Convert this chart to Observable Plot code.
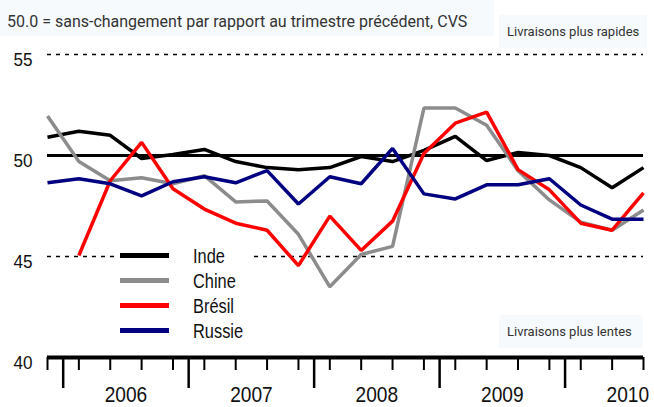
<!DOCTYPE html>
<html>
<head>
<meta charset="utf-8">
<script src="https://cdn.jsdelivr.net/npm/d3@7"></script>
<script src="https://cdn.jsdelivr.net/npm/@observablehq/plot@0.6"></script>
<style>
  html, body { margin: 0; padding: 0; background: #fff; }
  #wrap { position: relative; width: 654px; height: 407px; overflow: hidden; }
  .note { position: absolute; background: #f6fafd; color: #333; font-family: Roboto, "Noto Sans", sans-serif; white-space: nowrap; box-sizing: border-box; }
  #title { left: 0; top: 0; width: 494px; height: 36px; font-size: 16px; line-height: 44px; padding-left: 7px; }
  #fast { left: 499px; top: 15px; width: 148px; height: 33px; font-size: 13px; line-height: 34px; padding-left: 8px; }
  #slow { left: 499px; top: 315px; width: 144px; height: 33px; font-size: 13px; line-height: 34px; padding-left: 8px; }
  #legend { position: absolute; left: 118px; top: 243px; width: 132px; height: 100px; background: #fff; font-family: "Liberation Sans", Arial, sans-serif; font-size: 20.5px; color: #111; }
  .li { position: absolute; left: 0; height: 25px; width: 132px; }
  .li .sw { position: absolute; left: 2px; width: 49px; height: 5px; top: 10px; }
  .li .lb { position: absolute; left: 75px; top: 0; line-height: 25px; transform: scaleX(0.8); transform-origin: 0 50%; }
  svg text { font-family: "Liberation Sans", Arial, sans-serif; }
</style>
</head>
<body>
<div id="wrap"></div>
<script>
// Quarters (T = trimestre), 2005T4 .. 2010T3
const quarters = ["2005T4",
  "2006T1","2006T2","2006T3","2006T4",
  "2007T1","2007T2","2007T3","2007T4",
  "2008T1","2008T2","2008T3","2008T4",
  "2009T1","2009T2","2009T3","2009T4",
  "2010T1","2010T2","2010T3"];
const seriesNames = ["Inde", "Chine", "Brésil", "Russie"];
const seriesColors = ["#000000", "#8c8c8c", "#ff0000", "#000080"];
const inde   = [50.9, 51.2, 51.0, 49.85, 50.05, 50.3, 49.7, 49.4, 49.3, 49.4, 49.95, 49.7, 50.25, 50.95, 49.75, 50.15, 50.0, 49.4, 48.4, 49.4];
const chine  = [51.95, 49.7, 48.75, 48.9, 48.6, 49.0, 47.7, 47.75, 46.1, 43.5, 45.1, 45.5, 52.35, 52.35, 51.5, 49.25, 47.8, 46.7, 46.3, 47.3];
const bresil = [null, 45.05, 48.75, 50.65, 48.35, 47.35, 46.65, 46.3, 44.55, 47.0, 45.3, 46.75, 50.1, 51.6, 52.15, 49.3, 48.3, 46.65, 46.3, 48.15];
const russie = [48.65, 48.85, 48.6, 48.0, 48.7, 48.95, 48.65, 49.25, 47.6, 48.95, 48.6, 50.35, 48.1, 47.85, 48.55, 48.55, 48.85, 47.55, 46.85, 46.85];
const years = [2006, 2007, 2008, 2009, 2010];
const yTicks = [40, 45, 50, 55];
const dashedLevels = [45, 55];
const neutralLevel = 50;
const titleText = "50.0 = sans-changement par rapport au trimestre précédent, CVS";
const fastText = "Livraisons plus rapides";
const slowText = "Livraisons plus lentes";

const allValues = [inde, chine, bresil, russie];
const rows = [];
seriesNames.forEach((s, k) => {
  allValues[k].forEach((v, i) => {
    if (v != null) rows.push({t: i, q: quarters[i], v, s});
  });
});

// position index of each quarter; year boundaries and year centres from quarter labels
const qIndex = quarters.map((q, i) => i);
const firstQ = y => quarters.indexOf(y + "T1");
const boundaries = years.map(y => firstQ(y) - 0.5);
const yearCenters = years.map(y => firstQ(y) + 1.5);

const chart = Plot.plot({
  width: 654,
  height: 407,
  marginLeft: 47,
  marginRight: 11,
  marginTop: 54,
  marginBottom: 50,
  x: {domain: [0, quarters.length - 1]},
  y: {domain: [40, 55]},
  color: {domain: seriesNames, range: seriesColors},
  style: {fontFamily: '"Liberation Sans", Arial, sans-serif', background: "transparent", overflow: "visible"},
  marks: [
    Plot.ruleY(dashedLevels, {stroke: "#000", strokeWidth: 1.5, strokeDasharray: "4,5"}),
    Plot.ruleY([neutralLevel], {stroke: "#000", strokeWidth: 3}),
    Plot.axisY({ticks: yTicks, tickSize: 0, tickPadding: 15, fontSize: 19, dy: 5, color: "#111", label: null, className: "yax"}),
    Plot.axisX({ticks: qIndex, tickSize: 13, tickFormat: () => "", strokeWidth: 2, label: null}),
    Plot.axisX({ticks: boundaries, tickSize: 31, tickFormat: () => "", strokeWidth: 2.5, label: null}),
    Plot.axisX({ticks: yearCenters, tickSize: 0, tickPadding: 30, dy: -1, tickFormat: (d, i) => String(years[i]), fontSize: 22.5, color: "#111", label: null, className: "yrs"}),
    Plot.ruleY([40], {stroke: "#000", strokeWidth: 4}),
    Plot.line(rows, {x: "t", y: "v", z: "s", stroke: "s", strokeWidth: 3.5, strokeLinejoin: "miter", strokeLinecap: "butt"})
  ]
});

const wrap = document.getElementById("wrap");
wrap.appendChild(chart);

// narrow the axis glyphs about their anchor (the original uses a condensed typeface)
function squeeze(sel, f) {
  chart.querySelectorAll(sel).forEach(t => {
    const tr = t.getAttribute("transform") || "";
    t.setAttribute("transform", tr + ` scale(${f},1)`);
  });
}
squeeze("g.yax text", 0.9);
squeeze("g.yrs text", 0.85);

function note(id, text) {
  const d = document.createElement("div");
  d.className = "note"; d.id = id; d.textContent = text;
  wrap.appendChild(d);
}
note("title", titleText);
note("fast", fastText);
note("slow", slowText);

const leg = document.createElement("div");
leg.id = "legend";
seriesNames.forEach((s, k) => {
  const li = document.createElement("div");
  li.className = "li";
  li.style.top = (k * 25) + "px";
  const sw = document.createElement("div");
  sw.className = "sw"; sw.style.background = seriesColors[k];
  const lb = document.createElement("div");
  lb.className = "lb"; lb.textContent = s;
  li.appendChild(sw); li.appendChild(lb);
  leg.appendChild(li);
});
wrap.appendChild(leg);
</script>
</body>
</html>
